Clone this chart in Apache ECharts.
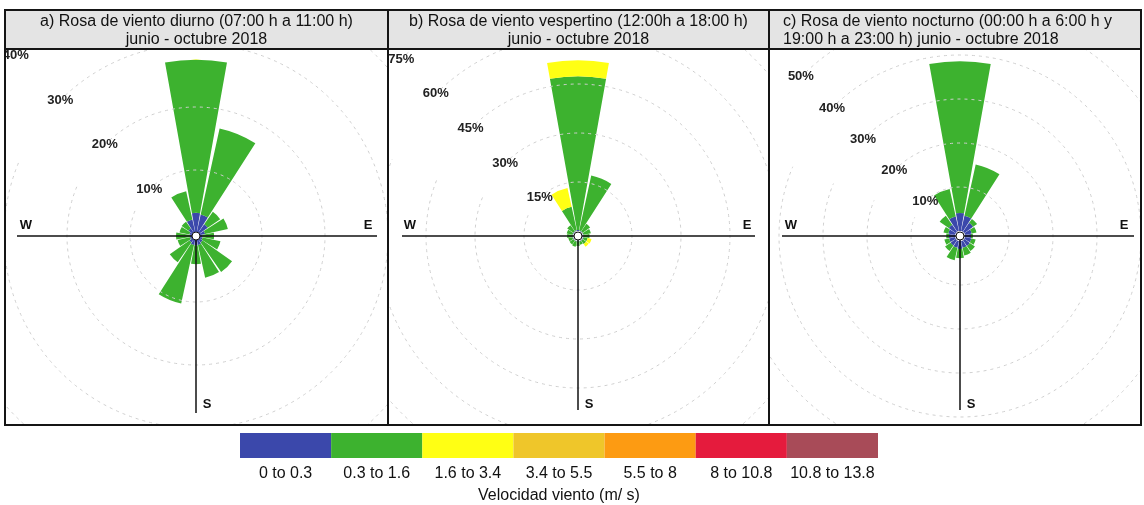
<!DOCTYPE html>
<html>
<head>
<meta charset="utf-8">
<script src="https://cdn.jsdelivr.net/npm/echarts/dist/echarts.min.js"></script>
<style>
  body { margin: 0; background: #fff; }
  #page { position: relative; width: 1144px; height: 505px; background: #fff; overflow: hidden; }
  .rose { position: absolute; top: 10px; height: 415px; }
  .ln { position: absolute; background: #151515; z-index: 5; }
  #legend { position: absolute; left: 230px; top: 428px; width: 660px; height: 77px; }
</style>
</head>
<body>
<div id="page">
  <div id="roseA" class="rose" style="left:5px;width:383px"></div>
  <div id="roseB" class="rose" style="left:388px;width:381px"></div>
  <div id="roseC" class="rose" style="left:769px;width:373px"></div>
  <div class="ln" style="left:4px;top:9px;width:1138px;height:2px"></div>
  <div class="ln" style="left:4px;top:424px;width:1138px;height:2px"></div>
  <div class="ln" style="left:4px;top:9px;width:2px;height:417px"></div>
  <div class="ln" style="left:1140px;top:9px;width:2px;height:417px"></div>
  <div class="ln" style="left:387px;top:9px;width:2px;height:417px"></div>
  <div class="ln" style="left:768px;top:9px;width:2px;height:417px"></div>
  <div class="ln" style="left:4px;top:48px;width:1138px;height:1.5px"></div>
  <div id="legend"></div>
</div>
<script>
const directions = ['N', 'NNE', 'NE', 'ENE', 'E', 'ESE', 'SE', 'SSE', 'S', 'SSW', 'SW', 'WSW', 'W', 'WNW', 'NW', 'NNW']
const speedClasses = ['0 to 0.3', '0.3 to 1.6', '1.6 to 3.4', '3.4 to 5.5', '5.5 to 8', '8 to 10.8', '10.8 to 13.8']
const speedColors = ['#3b48ab', '#3db22f', '#ffff14', '#efc62a', '#fd9b12', '#e51b3d', '#a84b58']

// a) diurno, % of time per direction and speed class
const diurnoCalm = [3.2, 3.0, 1.8, 1.0, 0.6, 0.6, 0.8, 1.0, 1.0, 1.0, 0.8, 0.5, 0.5, 0.6, 1.0, 2.2]
const diurnoLow = [24.3, 14.0, 2.4, 3.7, 1.8, 2.9, 5.7, 5.3, 3.0, 9.5, 3.8, 2.0, 2.2, 1.6, 1.3, 4.6]
const diurnoMid = [0, 0, 0, 0, 0, 0, 0, 0, 0, 0, 0, 0, 0, 0, 0, 0]
const diurnoRings = [0, 10, 20, 30, 40, 50]

// b) vespertino
const vespertinoCalm = [0.3, 0.2, 0.2, 0.2, 0.2, 0.2, 0.2, 0.2, 0.2, 0.2, 0.2, 0.2, 0.2, 0.2, 0.2, 0.3]
const vespertinoLow = [47.1, 17.2, 2.8, 2.3, 1.8, 1.3, 1.3, 1.0, 1.3, 1.6, 1.4, 1.3, 1.6, 1.8, 2.3, 7.3]
const vespertinoMid = [4.9, 0, 0, 0, 0, 1.2, 1.0, 0, 0, 0, 0, 0, 0, 0, 0, 5.9]
const vespertinoRings = [0, 15, 30, 45, 60, 75, 90]

// c) nocturno
const nocturnoCalm = [4.1, 3.6, 2.5, 1.6, 1.4, 1.5, 1.6, 1.6, 1.8, 1.6, 1.5, 1.4, 1.4, 1.6, 2.0, 3.4]
const nocturnoLow = [34.5, 11.9, 1.1, 1.1, 0.4, 1.0, 1.4, 1.8, 2.1, 2.9, 1.5, 1.1, 0.6, 1.1, 2.5, 6.4]
const nocturnoMid = [0, 0, 0, 0, 0, 0, 0, 0, 0, 0, 0, 0, 0, 0, 0, 0]
const nocturnoRings = [0, 10, 20, 30, 40, 50, 60]

const font = 'Liberation Sans, Arial, sans-serif'

// start the angle axis at NW so the ring labels sit on the NW ray
function fromNW(arr) {
  return arr.slice(14).concat(arr.slice(0, 14))
}

function makeRose(id, p) {
  const chart = echarts.init(document.getElementById(id))
  const w = chart.getWidth()
  const stackSeries = [p.calm, p.low, p.mid].map((vals, i) => ({
    name: speedClasses[i],
    type: 'bar',
    coordinateSystem: 'polar',
    stack: 'speed',
    data: fromNW(vals),
    barCategoryGap: '10%',
    itemStyle: { color: speedColors[i] },
    z: 2,
  }))
  chart.setOption({
    animation: false,
    title: {
      text: p.title,
      left: p.titleLeft,
      top: 3,
      padding: 0,
      z: 80,
      textStyle: { fontFamily: font, fontSize: 16, fontWeight: 'normal', color: '#111', lineHeight: 18 },
    },
    polar: {
      center: [p.cx, 226],
      radius: [p.inner, p.outer],
    },
    angleAxis: {
      type: 'category',
      data: fromNW(directions),
      startAngle: 135,
      boundaryGap: false,
      axisLine: { show: false },
      axisTick: { show: false },
      axisLabel: { show: false },
      splitLine: { show: false },
    },
    radiusAxis: {
      min: 0,
      max: p.rings[p.rings.length - 1],
      interval: p.rings[1] - p.rings[0],
      axisLine: { show: false },
      axisTick: { show: false },
      axisLabel: {
        formatter: (v) => (v === 0 ? '' : v + '%'),
        margin: 0,
        align: 'center',
        verticalAlign: 'middle',
        fontFamily: font,
        fontSize: 13,
        fontWeight: 'bold',
        color: '#222',
      },
      splitLine: { show: true, lineStyle: { color: '#cfcfcf', type: [3, 4], width: 1 } },
      z: 10,
    },
    series: stackSeries,
    graphic: [
      { type: 'rect', z: 50, shape: { x: 0, y: 0, width: w, height: 39 }, style: { fill: '#e4e4e4' } },
      { type: 'line', z: 60, shape: { x1: p.lineX1, y1: 226, x2: p.lineX2, y2: 226 }, style: { stroke: '#111', lineWidth: 1.5 } },
      { type: 'line', z: 60, shape: { x1: p.cx, y1: 226, x2: p.cx, y2: p.lineBottom }, style: { stroke: '#111', lineWidth: 1.5 } },
      { type: 'circle', z: 61, shape: { cx: p.cx, cy: 226, r: 4 }, style: { fill: '#fff', stroke: '#111', lineWidth: 1 } },
      { type: 'text', z: 60, x: p.wX, y: 215, style: { text: 'W', fontFamily: font, fontSize: 13, fontWeight: 'bold', fill: '#111', align: 'center', verticalAlign: 'middle' } },
      { type: 'text', z: 60, x: p.eX, y: 215, style: { text: 'E', fontFamily: font, fontSize: 13, fontWeight: 'bold', fill: '#111', align: 'center', verticalAlign: 'middle' } },
      { type: 'text', z: 60, x: p.cx + 11, y: 394, style: { text: 'S', fontFamily: font, fontSize: 13, fontWeight: 'bold', fill: '#111', align: 'center', verticalAlign: 'middle' } },
    ],
  })
  return chart
}

makeRose('roseA', {
  title: 'a) Rosa de viento diurno (07:00 h a 11:00 h)\njunio - octubre 2018',
  titleLeft: 'center',
  calm: diurnoCalm, low: diurnoLow, mid: diurnoMid, rings: diurnoRings,
  cx: 191, inner: 3, outer: 318,
  lineX1: 12, lineX2: 372, lineBottom: 403, wX: 21, eX: 363,
})

makeRose('roseB', {
  title: 'b) Rosa de viento vespertino (12:00h a 18:00 h)\njunio - octubre 2018',
  titleLeft: 'center',
  calm: vespertinoCalm, low: vespertinoLow, mid: vespertinoMid, rings: vespertinoRings,
  cx: 190, inner: 5, outer: 299,
  lineX1: 14, lineX2: 367, lineBottom: 400, wX: 22, eX: 359,
})

makeRose('roseC', {
  title: 'c) Rosa de viento nocturno (00:00 h a 6:00 h y\n19:00 h a 23:00 h) junio - octubre 2018',
  titleLeft: 14,
  calm: nocturnoCalm, low: nocturnoLow, mid: nocturnoMid, rings: nocturnoRings,
  cx: 191, inner: 5, outer: 269,
  lineX1: 13, lineX2: 365, lineBottom: 400, wX: 22, eX: 355,
})

const legendChart = echarts.init(document.getElementById('legend'))
legendChart.setOption({
  animation: false,
  grid: { left: 10, right: 12, top: 5, height: 25 },
  xAxis: {
    type: 'category',
    data: speedClasses,
    axisLine: { show: false },
    axisTick: { show: false },
    axisLabel: { color: '#111', fontSize: 16, fontFamily: font, margin: 8, interval: 0 },
    name: 'Velocidad viento (m/ s)',
    nameLocation: 'middle',
    nameGap: 30,
    nameTextStyle: { color: '#111', fontSize: 16, fontFamily: font },
  },
  yAxis: { type: 'value', min: 0, max: 1, show: false },
  series: [{
    type: 'bar',
    barCategoryGap: 0,
    data: speedClasses.map((c, i) => ({ value: 1, itemStyle: { color: speedColors[i] } })),
  }],
})
</script>
</body>
</html>
